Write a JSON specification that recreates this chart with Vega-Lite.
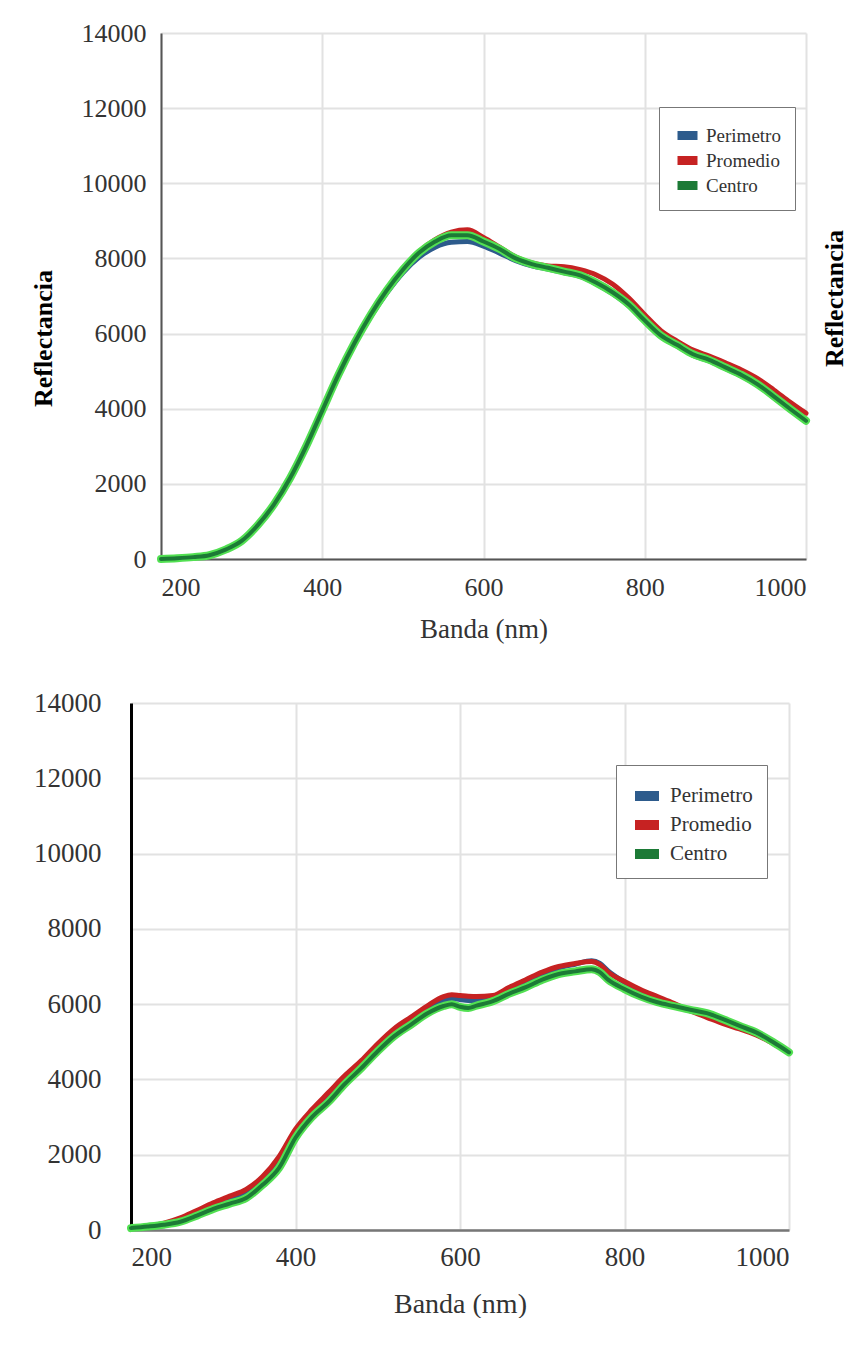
{
  "$schema": "https://vega.github.io/schema/vega-lite/v6.json",
  "padding": {"left": 30, "top": 20, "right": 0, "bottom": 0},
  "background": "white",
  "spacing": 47,
  "resolve": {"legend": {"color": "independent"}},
  "config": {
    "font": "Liberation Serif",
    "view": {"stroke": null},
    "axis": {"labelFont": "Liberation Serif", "titleFont": "Liberation Serif"},
    "legend": {"labelFont": "Liberation Serif"},
    "line": {"strokeCap": "round", "strokeJoin": "round"}
  },
  "datasets": {
    "top": [
      {"banda":200,"serie":"Perimetro","refl":0},{"banda":220,"serie":"Perimetro","refl":20},{"banda":240,"serie":"Perimetro","refl":50},{"banda":260,"serie":"Perimetro","refl":100},{"banda":280,"serie":"Perimetro","refl":240},{"banda":300,"serie":"Perimetro","refl":470},{"banda":320,"serie":"Perimetro","refl":890},{"banda":340,"serie":"Perimetro","refl":1430},{"banda":360,"serie":"Perimetro","refl":2130},{"banda":380,"serie":"Perimetro","refl":2980},{"banda":400,"serie":"Perimetro","refl":3930},{"banda":420,"serie":"Perimetro","refl":4880},{"banda":440,"serie":"Perimetro","refl":5720},{"banda":460,"serie":"Perimetro","refl":6450},{"banda":480,"serie":"Perimetro","refl":7080},{"banda":500,"serie":"Perimetro","refl":7620},{"banda":520,"serie":"Perimetro","refl":8030},{"banda":540,"serie":"Perimetro","refl":8300},{"banda":560,"serie":"Perimetro","refl":8430},{"banda":580,"serie":"Perimetro","refl":8450},{"banda":600,"serie":"Perimetro","refl":8330},{"banda":620,"serie":"Perimetro","refl":8140},{"banda":640,"serie":"Perimetro","refl":7940},{"banda":660,"serie":"Perimetro","refl":7800},{"banda":680,"serie":"Perimetro","refl":7720},{"banda":700,"serie":"Perimetro","refl":7620},{"banda":720,"serie":"Perimetro","refl":7520},{"banda":740,"serie":"Perimetro","refl":7320},{"banda":760,"serie":"Perimetro","refl":7060},{"banda":780,"serie":"Perimetro","refl":6740},{"banda":800,"serie":"Perimetro","refl":6320},{"banda":820,"serie":"Perimetro","refl":5920},{"banda":840,"serie":"Perimetro","refl":5670},{"banda":860,"serie":"Perimetro","refl":5420},{"banda":880,"serie":"Perimetro","refl":5270},{"banda":900,"serie":"Perimetro","refl":5070},{"banda":920,"serie":"Perimetro","refl":4870},{"banda":940,"serie":"Perimetro","refl":4620},{"banda":960,"serie":"Perimetro","refl":4300},{"banda":980,"serie":"Perimetro","refl":3970},{"banda":1000,"serie":"Perimetro","refl":3650},
      {"banda":200,"serie":"Promedio","refl":0},{"banda":220,"serie":"Promedio","refl":20},{"banda":240,"serie":"Promedio","refl":50},{"banda":260,"serie":"Promedio","refl":110},{"banda":280,"serie":"Promedio","refl":260},{"banda":300,"serie":"Promedio","refl":500},{"banda":320,"serie":"Promedio","refl":920},{"banda":340,"serie":"Promedio","refl":1470},{"banda":360,"serie":"Promedio","refl":2170},{"banda":380,"serie":"Promedio","refl":3030},{"banda":400,"serie":"Promedio","refl":3970},{"banda":420,"serie":"Promedio","refl":4930},{"banda":440,"serie":"Promedio","refl":5780},{"banda":460,"serie":"Promedio","refl":6530},{"banda":480,"serie":"Promedio","refl":7170},{"banda":500,"serie":"Promedio","refl":7720},{"banda":520,"serie":"Promedio","refl":8180},{"banda":540,"serie":"Promedio","refl":8500},{"banda":560,"serie":"Promedio","refl":8700},{"banda":580,"serie":"Promedio","refl":8760},{"banda":600,"serie":"Promedio","refl":8560},{"banda":620,"serie":"Promedio","refl":8300},{"banda":640,"serie":"Promedio","refl":8040},{"banda":660,"serie":"Promedio","refl":7880},{"banda":680,"serie":"Promedio","refl":7800},{"banda":700,"serie":"Promedio","refl":7780},{"banda":720,"serie":"Promedio","refl":7700},{"banda":740,"serie":"Promedio","refl":7560},{"banda":760,"serie":"Promedio","refl":7320},{"banda":780,"serie":"Promedio","refl":6950},{"banda":800,"serie":"Promedio","refl":6500},{"banda":820,"serie":"Promedio","refl":6080},{"banda":840,"serie":"Promedio","refl":5800},{"banda":860,"serie":"Promedio","refl":5560},{"banda":880,"serie":"Promedio","refl":5400},{"banda":900,"serie":"Promedio","refl":5220},{"banda":920,"serie":"Promedio","refl":5030},{"banda":940,"serie":"Promedio","refl":4800},{"banda":960,"serie":"Promedio","refl":4500},{"banda":980,"serie":"Promedio","refl":4180},{"banda":1000,"serie":"Promedio","refl":3880},
      {"banda":200,"serie":"Centro","refl":0},{"banda":220,"serie":"Centro","refl":20},{"banda":240,"serie":"Centro","refl":50},{"banda":260,"serie":"Centro","refl":100},{"banda":280,"serie":"Centro","refl":250},{"banda":300,"serie":"Centro","refl":480},{"banda":320,"serie":"Centro","refl":900},{"banda":340,"serie":"Centro","refl":1450},{"banda":360,"serie":"Centro","refl":2150},{"banda":380,"serie":"Centro","refl":3000},{"banda":400,"serie":"Centro","refl":3950},{"banda":420,"serie":"Centro","refl":4900},{"banda":440,"serie":"Centro","refl":5750},{"banda":460,"serie":"Centro","refl":6500},{"banda":480,"serie":"Centro","refl":7150},{"banda":500,"serie":"Centro","refl":7700},{"banda":520,"serie":"Centro","refl":8150},{"banda":540,"serie":"Centro","refl":8450},{"banda":560,"serie":"Centro","refl":8620},{"banda":580,"serie":"Centro","refl":8620},{"banda":600,"serie":"Centro","refl":8450},{"banda":620,"serie":"Centro","refl":8250},{"banda":640,"serie":"Centro","refl":8000},{"banda":660,"serie":"Centro","refl":7850},{"banda":680,"serie":"Centro","refl":7750},{"banda":700,"serie":"Centro","refl":7650},{"banda":720,"serie":"Centro","refl":7550},{"banda":740,"serie":"Centro","refl":7350},{"banda":760,"serie":"Centro","refl":7100},{"banda":780,"serie":"Centro","refl":6780},{"banda":800,"serie":"Centro","refl":6350},{"banda":820,"serie":"Centro","refl":5950},{"banda":840,"serie":"Centro","refl":5700},{"banda":860,"serie":"Centro","refl":5450},{"banda":880,"serie":"Centro","refl":5300},{"banda":900,"serie":"Centro","refl":5100},{"banda":920,"serie":"Centro","refl":4900},{"banda":940,"serie":"Centro","refl":4650},{"banda":960,"serie":"Centro","refl":4330},{"banda":980,"serie":"Centro","refl":4000},{"banda":1000,"serie":"Centro","refl":3680}
    ],
    "bottom": [
      {"banda":200,"serie":"Perimetro","refl":50},{"banda":220,"serie":"Perimetro","refl":95},{"banda":240,"serie":"Perimetro","refl":160},{"banda":260,"serie":"Perimetro","refl":280},{"banda":280,"serie":"Perimetro","refl":470},{"banda":300,"serie":"Perimetro","refl":660},{"banda":320,"serie":"Perimetro","refl":830},{"banda":340,"serie":"Perimetro","refl":1000},{"banda":360,"serie":"Perimetro","refl":1330},{"banda":380,"serie":"Perimetro","refl":1830},{"banda":400,"serie":"Perimetro","refl":2580},{"banda":420,"serie":"Perimetro","refl":3120},{"banda":440,"serie":"Perimetro","refl":3560},{"banda":460,"serie":"Perimetro","refl":4020},{"banda":480,"serie":"Perimetro","refl":4420},{"banda":500,"serie":"Perimetro","refl":4870},{"banda":520,"serie":"Perimetro","refl":5270},{"banda":540,"serie":"Perimetro","refl":5570},{"banda":560,"serie":"Perimetro","refl":5870},{"banda":580,"serie":"Perimetro","refl":6100},{"banda":590,"serie":"Perimetro","refl":6150},{"banda":600,"serie":"Perimetro","refl":6120},{"banda":610,"serie":"Perimetro","refl":6100},{"banda":620,"serie":"Perimetro","refl":6100},{"banda":640,"serie":"Perimetro","refl":6170},{"banda":660,"serie":"Perimetro","refl":6400},{"banda":680,"serie":"Perimetro","refl":6600},{"banda":700,"serie":"Perimetro","refl":6800},{"banda":720,"serie":"Perimetro","refl":6960},{"banda":740,"serie":"Perimetro","refl":7060},{"banda":760,"serie":"Perimetro","refl":7150},{"banda":770,"serie":"Perimetro","refl":7080},{"banda":780,"serie":"Perimetro","refl":6880},{"banda":800,"serie":"Perimetro","refl":6580},{"banda":820,"serie":"Perimetro","refl":6340},{"banda":840,"serie":"Perimetro","refl":6150},{"banda":860,"serie":"Perimetro","refl":5990},{"banda":880,"serie":"Perimetro","refl":5830},{"banda":900,"serie":"Perimetro","refl":5700},{"banda":920,"serie":"Perimetro","refl":5540},{"banda":940,"serie":"Perimetro","refl":5380},{"banda":960,"serie":"Perimetro","refl":5210},{"banda":980,"serie":"Perimetro","refl":4980},{"banda":1000,"serie":"Perimetro","refl":4720},
      {"banda":200,"serie":"Promedio","refl":50},{"banda":220,"serie":"Promedio","refl":100},{"banda":240,"serie":"Promedio","refl":180},{"banda":260,"serie":"Promedio","refl":320},{"banda":280,"serie":"Promedio","refl":520},{"banda":300,"serie":"Promedio","refl":720},{"banda":320,"serie":"Promedio","refl":900},{"banda":340,"serie":"Promedio","refl":1080},{"banda":360,"serie":"Promedio","refl":1420},{"banda":380,"serie":"Promedio","refl":1950},{"banda":400,"serie":"Promedio","refl":2680},{"banda":420,"serie":"Promedio","refl":3200},{"banda":440,"serie":"Promedio","refl":3650},{"banda":460,"serie":"Promedio","refl":4100},{"banda":480,"serie":"Promedio","refl":4500},{"banda":500,"serie":"Promedio","refl":4950},{"banda":520,"serie":"Promedio","refl":5350},{"banda":540,"serie":"Promedio","refl":5650},{"banda":560,"serie":"Promedio","refl":5950},{"banda":580,"serie":"Promedio","refl":6200},{"banda":590,"serie":"Promedio","refl":6250},{"banda":600,"serie":"Promedio","refl":6230},{"banda":610,"serie":"Promedio","refl":6210},{"banda":620,"serie":"Promedio","refl":6200},{"banda":640,"serie":"Promedio","refl":6230},{"banda":660,"serie":"Promedio","refl":6450},{"banda":680,"serie":"Promedio","refl":6650},{"banda":700,"serie":"Promedio","refl":6850},{"banda":720,"serie":"Promedio","refl":7000},{"banda":740,"serie":"Promedio","refl":7080},{"banda":760,"serie":"Promedio","refl":7130},{"banda":770,"serie":"Promedio","refl":7050},{"banda":780,"serie":"Promedio","refl":6850},{"banda":800,"serie":"Promedio","refl":6600},{"banda":820,"serie":"Promedio","refl":6380},{"banda":840,"serie":"Promedio","refl":6200},{"banda":860,"serie":"Promedio","refl":6020},{"banda":880,"serie":"Promedio","refl":5820},{"banda":900,"serie":"Promedio","refl":5650},{"banda":920,"serie":"Promedio","refl":5480},{"banda":940,"serie":"Promedio","refl":5340},{"banda":960,"serie":"Promedio","refl":5180},{"banda":980,"serie":"Promedio","refl":4960},{"banda":1000,"serie":"Promedio","refl":4720},
      {"banda":200,"serie":"Centro","refl":50},{"banda":220,"serie":"Centro","refl":90},{"banda":240,"serie":"Centro","refl":140},{"banda":260,"serie":"Centro","refl":220},{"banda":280,"serie":"Centro","refl":380},{"banda":300,"serie":"Centro","refl":560},{"banda":320,"serie":"Centro","refl":700},{"banda":340,"serie":"Centro","refl":850},{"banda":360,"serie":"Centro","refl":1200},{"banda":380,"serie":"Centro","refl":1650},{"banda":400,"serie":"Centro","refl":2450},{"banda":420,"serie":"Centro","refl":3000},{"banda":440,"serie":"Centro","refl":3400},{"banda":460,"serie":"Centro","refl":3880},{"banda":480,"serie":"Centro","refl":4300},{"banda":500,"serie":"Centro","refl":4750},{"banda":520,"serie":"Centro","refl":5150},{"banda":540,"serie":"Centro","refl":5450},{"banda":560,"serie":"Centro","refl":5750},{"banda":580,"serie":"Centro","refl":5950},{"banda":590,"serie":"Centro","refl":6000},{"banda":600,"serie":"Centro","refl":5930},{"banda":610,"serie":"Centro","refl":5900},{"banda":620,"serie":"Centro","refl":5960},{"banda":640,"serie":"Centro","refl":6080},{"banda":660,"serie":"Centro","refl":6280},{"banda":680,"serie":"Centro","refl":6450},{"banda":700,"serie":"Centro","refl":6650},{"banda":720,"serie":"Centro","refl":6800},{"banda":740,"serie":"Centro","refl":6870},{"banda":760,"serie":"Centro","refl":6930},{"banda":770,"serie":"Centro","refl":6850},{"banda":780,"serie":"Centro","refl":6650},{"banda":800,"serie":"Centro","refl":6400},{"banda":820,"serie":"Centro","refl":6200},{"banda":840,"serie":"Centro","refl":6050},{"banda":860,"serie":"Centro","refl":5950},{"banda":880,"serie":"Centro","refl":5850},{"banda":900,"serie":"Centro","refl":5760},{"banda":920,"serie":"Centro","refl":5600},{"banda":940,"serie":"Centro","refl":5420},{"banda":960,"serie":"Centro","refl":5250},{"banda":980,"serie":"Centro","refl":5000},{"banda":1000,"serie":"Centro","refl":4720}
    ]
  },
  "vconcat": [
    {
      "width": 675,
      "height": 526,
      "data": {"name": "top"},
      "encoding": {
        "x": {
          "field": "banda", "type": "quantitative",
          "scale": {"domain": [200, 1000], "nice": false, "range": [30, 675]},
          "axis": {
            "title": "Banda (nm)", "titleFontSize": 27, "titleFontWeight": "normal", "titleColor": "#333", "titlePadding": 16,
            "labelFontSize": 26, "labelColor": "#333", "labelPadding": 15, "labelFlush": true, "format": "d",
            "ticks": false, "values": [200, 400, 600, 800, 1000],
            "grid": true, "gridColor": "#e2e2e2", "gridWidth": 2,
            "domainColor": "#555", "domainWidth": 2
          }
        }
      },
      "layer": [
        {
          "transform": [{"filter": {"field": "serie", "equal": "Perimetro"}}],
          "mark": {"type": "line", "strokeWidth": 5, "interpolate": "monotone"},
          "encoding": {
            "y": {
              "field": "refl", "type": "quantitative",
              "scale": {"domain": [0, 14000], "nice": false},
              "axis": {
                "offset": -30,
                "title": "Reflectancia", "titleFontSize": 26, "titleFontWeight": "bold", "titleColor": "black", "titlePadding": 25, "titleY": 305,
                "labelFontSize": 26, "labelColor": "#333", "labelPadding": 15, "format": "d",
                "ticks": false, "values": [0, 2000, 4000, 6000, 8000, 10000, 12000, 14000],
                "grid": true, "gridColor": "#e2e2e2", "gridWidth": 2,
                "domainColor": "#555", "domainWidth": 2
              }
            },
            "color": {
              "field": "serie", "type": "nominal",
              "scale": {"domain": ["Perimetro", "Promedio", "Centro"], "range": ["#2d5b8c", "#c62222", "#1c7a36"]},
              "legend": {"title": null, "orient": "none", "legendX": 528, "legendY": 74, "strokeColor": "#777", "fillColor": "white", "padding": 14, "symbolType": "stroke", "symbolStrokeWidth": 9, "symbolSize": 400, "labelFontSize": 19, "labelColor": "#333", "rowPadding": 0, "labelOffset": 4}
            }
          }
        },
        {
          "transform": [{"filter": {"field": "serie", "equal": "Promedio"}}],
          "mark": {"type": "line", "strokeWidth": 5, "interpolate": "monotone"},
          "encoding": {
            "y": {"field": "refl", "type": "quantitative", "axis": null},
            "color": {
              "field": "serie", "type": "nominal",
              "legend": {"title": null, "orient": "none", "legendX": 528, "legendY": 74, "strokeColor": "#777", "fillColor": "white", "padding": 14, "symbolType": "stroke", "symbolStrokeWidth": 9, "symbolSize": 400, "labelFontSize": 19, "labelColor": "#333", "rowPadding": 0, "labelOffset": 4}
            }
          }
        },
        {
          "transform": [{"filter": {"field": "serie", "equal": "Centro"}}],
          "mark": {"type": "line", "strokeWidth": 8, "color": "#52e052", "interpolate": "monotone"},
          "encoding": {
            "y": {"field": "refl", "type": "quantitative", "axis": null}
          }
        },
        {
          "transform": [{"filter": {"field": "serie", "equal": "Centro"}}],
          "mark": {"type": "line", "strokeWidth": 4, "interpolate": "monotone"},
          "encoding": {
            "y": {
              "field": "refl", "type": "quantitative",
              "axis": {"orient": "right", "title": "Reflectancia", "titleFontSize": 26, "titleFontWeight": "bold", "titleColor": "black", "titleAngle": 270, "titleBaseline": "top", "titlePadding": 15, "titleY": 265, "labels": false, "ticks": false, "domain": false, "grid": false}
            },
            "color": {
              "field": "serie", "type": "nominal",
              "legend": {"title": null, "orient": "none", "legendX": 528, "legendY": 74, "strokeColor": "#777", "fillColor": "white", "padding": 14, "symbolType": "stroke", "symbolStrokeWidth": 9, "symbolSize": 400, "labelFontSize": 19, "labelColor": "#333", "rowPadding": 0, "labelOffset": 4}
            }
          }
        }
      ],
      "resolve": {"axis": {"y": "independent"}}
    },
    {
      "width": 658,
      "height": 527,
      "data": {"name": "bottom"},
      "encoding": {
        "x": {
          "field": "banda", "type": "quantitative",
          "scale": {"domain": [200, 1000], "nice": false},
          "axis": {
            "title": "Banda (nm)", "titleFontSize": 28, "titleFontWeight": "normal", "titleColor": "#333", "titlePadding": 20,
            "labelFontSize": 27, "labelColor": "#333", "labelPadding": 14, "labelFlush": true, "format": "d",
            "ticks": false, "values": [200, 400, 600, 800, 1000],
            "grid": true, "gridColor": "#e2e2e2", "gridWidth": 2,
            "domainColor": "#777", "domainWidth": 2.5
          }
        },
        "y": {
          "field": "refl", "type": "quantitative",
          "scale": {"domain": [0, 14000], "nice": false},
          "axis": {
            "title": null,
            "labelFontSize": 27, "labelColor": "#333", "labelPadding": 30, "format": "d",
            "ticks": false, "values": [0, 2000, 4000, 6000, 8000, 10000, 12000, 14000],
            "grid": true, "gridColor": "#e2e2e2", "gridWidth": 2,
            "domainColor": "black", "domainWidth": 3
          }
        }
      },
      "layer": [
        {
          "transform": [{"filter": {"field": "serie", "equal": "Perimetro"}}],
          "mark": {"type": "line", "strokeWidth": 5, "interpolate": "monotone"},
          "encoding": {
            "color": {
              "field": "serie", "type": "nominal",
              "scale": {"domain": ["Perimetro", "Promedio", "Centro"], "range": ["#2d5b8c", "#c62222", "#1c7a36"]},
              "legend": {"title": null, "orient": "none", "legendX": 485, "legendY": 62, "strokeColor": "#777", "fillColor": "white", "padding": 14, "symbolType": "stroke", "symbolStrokeWidth": 10, "symbolSize": 576, "labelFontSize": 21, "labelColor": "#333", "rowPadding": 2, "labelOffset": 6}
            }
          }
        },
        {
          "transform": [{"filter": {"field": "serie", "equal": "Promedio"}}],
          "mark": {"type": "line", "strokeWidth": 5, "interpolate": "monotone"},
          "encoding": {
            "color": {
              "field": "serie", "type": "nominal",
              "legend": {"title": null, "orient": "none", "legendX": 485, "legendY": 62, "strokeColor": "#777", "fillColor": "white", "padding": 14, "symbolType": "stroke", "symbolStrokeWidth": 10, "symbolSize": 576, "labelFontSize": 21, "labelColor": "#333", "rowPadding": 2, "labelOffset": 6}
            }
          }
        },
        {
          "transform": [{"filter": {"field": "serie", "equal": "Centro"}}],
          "mark": {"type": "line", "strokeWidth": 8, "color": "#52e052", "interpolate": "monotone"},
          "encoding": {}
        },
        {
          "transform": [{"filter": {"field": "serie", "equal": "Centro"}}],
          "mark": {"type": "line", "strokeWidth": 4, "interpolate": "monotone"},
          "encoding": {
            "color": {
              "field": "serie", "type": "nominal",
              "legend": {"title": null, "orient": "none", "legendX": 485, "legendY": 62, "strokeColor": "#777", "fillColor": "white", "padding": 14, "symbolType": "stroke", "symbolStrokeWidth": 10, "symbolSize": 576, "labelFontSize": 21, "labelColor": "#333", "rowPadding": 2, "labelOffset": 6}
            }
          }
        }
      ]
    }
  ]
}
